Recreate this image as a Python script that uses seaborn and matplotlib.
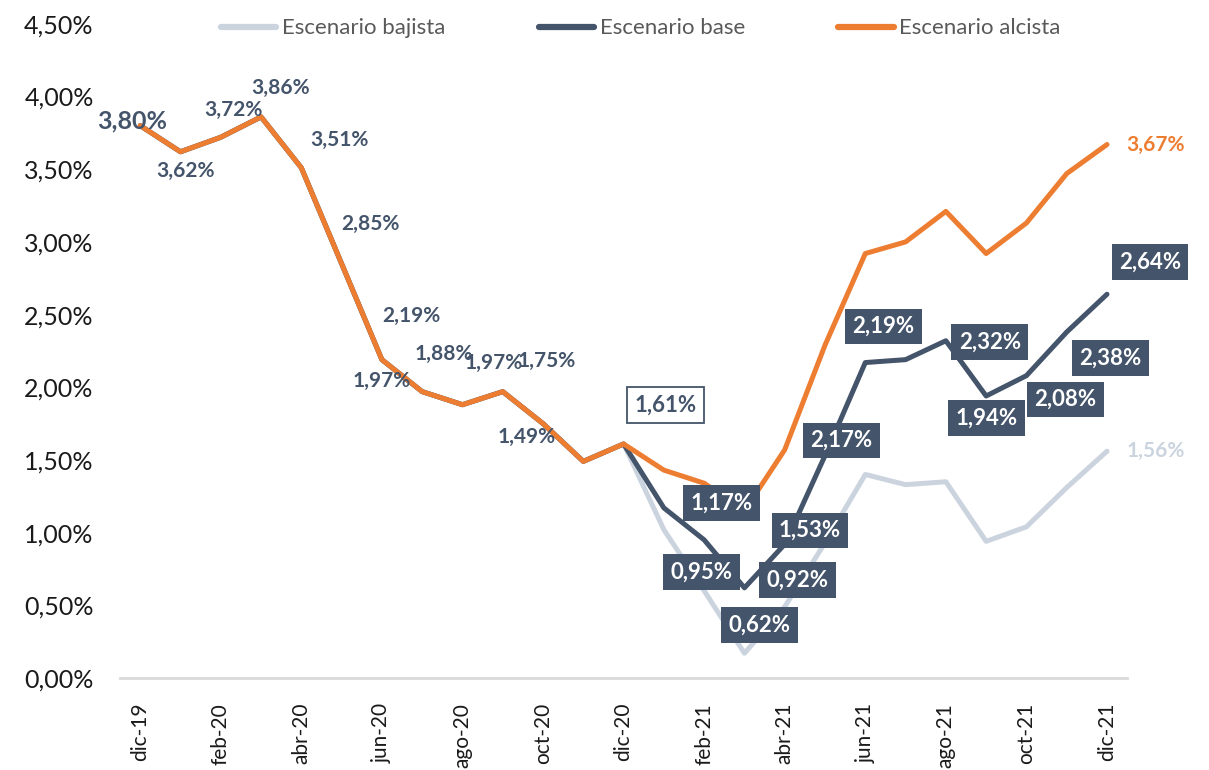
import matplotlib
matplotlib.use("Agg")
import matplotlib.pyplot as plt
from matplotlib.lines import Line2D
import pandas as pd
import seaborn as sns

# Datos del gráfico
meses = ["dic-19", "ene-20", "feb-20", "mar-20", "abr-20", "may-20", "jun-20",
         "jul-20", "ago-20", "sep-20", "oct-20", "nov-20", "dic-20", "ene-21",
         "feb-21", "mar-21", "abr-21", "may-21", "jun-21", "jul-21", "ago-21",
         "sep-21", "oct-21", "nov-21", "dic-21"]
historico = [3.80, 3.62, 3.72, 3.86, 3.51, 2.85, 2.19, 1.97, 1.88, 1.97, 1.75, 1.49, 1.61]
base = historico + [1.17, 0.95, 0.62, 0.92, 1.53, 2.17, 2.19, 2.32, 1.94, 2.08, 2.38, 2.64]
alcista = historico + [1.43, 1.34, 1.15, 1.57, 2.29, 2.92, 3.00, 3.21, 2.92, 3.13, 3.47, 3.67]
bajista = historico + [1.02, 0.60, 0.17, 0.49, 0.93, 1.40, 1.33, 1.35, 0.94, 1.04, 1.31, 1.56]
series = ["Escenario bajista", "Escenario base", "Escenario alcista"]
yticks = [0, 0.5, 1.0, 1.5, 2.0, 2.5, 3.0, 3.5, 4.0, 4.5]

navy = "#44546a"
orange = "#ed7d31"
light = "#cbd4de"
colores = {series[0]: light, series[1]: navy, series[2]: orange}

sns.set_theme(style="white")
plt.rcParams["font.family"] = ["Lato", "DejaVu Sans"]

n = len(meses)
df = pd.DataFrame({
    "idx": list(range(n)) * 3,
    "valor": bajista + base + alcista,
    "serie": [series[0]] * n + [series[1]] * n + [series[2]] * n,
})

fig = plt.figure(figsize=(12.09, 7.70), dpi=100)
ax = fig.add_axes([0.0993, 0.1195, 0.8330, 0.8495])

sns.lineplot(data=df, x="idx", y="valor", hue="serie", hue_order=series,
             palette=colores, linewidth=3.6, sort=False, legend=False, ax=ax)
for ln in ax.lines:
    ln.set_solid_joinstyle("round")
    ln.set_solid_capstyle("round")

ax.set_xlim(-0.5, n - 0.5)
ax.set_ylim(0, 4.5)
ax.set_xlabel("")
ax.set_ylabel("")

def fmt(v):
    return f"{v:.2f}%".replace(".", ",")

# ejes
ax.set_yticks(yticks)
ax.set_yticklabels([fmt(v) for v in yticks], fontsize=18, color="#1a1a1a")
ax.tick_params(axis="y", length=0, pad=19)
ax.set_xticks(range(0, n, 2))
ax.set_xticklabels(meses[::2], rotation=90, fontsize=15, color="#1a1a1a")
ax.set_xticks([i - 0.5 for i in range(0, n, 2)], minor=True)
ax.tick_params(axis="x", which="major", length=0, pad=18)
ax.tick_params(axis="x", which="minor", length=9, width=1.5, color="#d9d9d9")
for s in ["left", "right", "top"]:
    ax.spines[s].set_visible(False)
ax.spines["bottom"].set_color("#d9d9d9")
ax.spines["bottom"].set_linewidth(2)
ax.grid(False)

# etiquetas del tramo histórico (sin caja)
off_hist = [(-8, 5), (5, -19), (13, 27), (20, 29), (38, 28), (29, 40), (29, 44),
            (-40, 11), (-19, 51), (-9, 29), (4, 63), (-57, 24), (42, 39)]
for i, (dx, dy) in enumerate(off_hist):
    kw = dict(textcoords="offset pixels", ha="center", va="center",
              color=navy, fontweight="bold", fontsize=15)
    if i == 0:
        kw["fontsize"] = 18
    if i == 12:
        kw["fontsize"] = 16
        kw["bbox"] = dict(boxstyle="square,pad=0.35", fc="white", ec=navy, lw=1.3)
    ax.annotate(fmt(base[i]), xy=(i, base[i]), xytext=(dx, dy), **kw)

# etiquetas del escenario base (con caja)
off_base = [(58, 5), (-3, -32), (15, -37), (13, -36), (-15, -75), (-24, -78),
            (-22, 33), (44, -1), (0, -22), (39, -24), (44, -26), (43, 32)]
for k, (dx, dy) in enumerate(off_base):
    i = 13 + k
    ax.annotate(fmt(base[i]), xy=(i, base[i]), xytext=(dx, dy),
                textcoords="offset pixels", ha="center", va="center",
                color="white", fontweight="bold", fontsize=16,
                bbox=dict(boxstyle="square,pad=0.33", fc=navy, ec="none"))

# etiquetas finales
ax.annotate(fmt(alcista[-1]), xy=(n - 1, alcista[-1]), xytext=(48, 0),
            textcoords="offset pixels", ha="center", va="center",
            color=orange, fontweight="bold", fontsize=15, annotation_clip=False)
ax.annotate(fmt(bajista[-1]), xy=(n - 1, bajista[-1]), xytext=(49, 0),
            textcoords="offset pixels", ha="center", va="center",
            color=light, fontweight="bold", fontsize=15, annotation_clip=False)

handles = [Line2D([0], [0], color=colores[s], lw=4.5, solid_capstyle="round") for s in series]
fig.legend(handles, series, loc="center", bbox_to_anchor=(0.530, 0.963), ncol=3,
           frameon=False, fontsize=16, handlelength=2.5, handletextpad=0.25,
           columnspacing=4.2, labelcolor="#595959")

fig.savefig("out.png", dpi=100)
